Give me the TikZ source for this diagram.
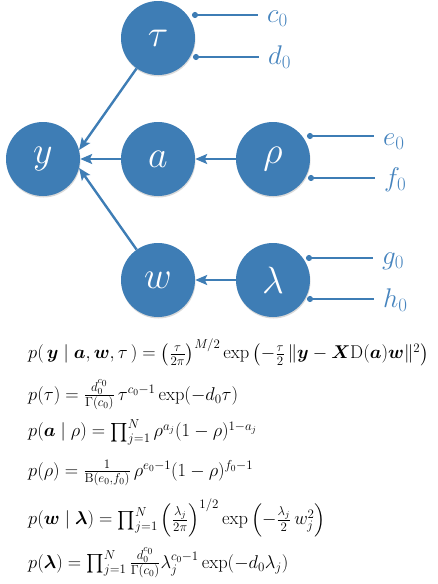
\RequirePackage{fix-cm}
\documentclass[tikz,border=0pt]{standalone}
\usepackage{amsmath}
\usepackage{amssymb}
\usepackage{xcolor}
\usepackage{tikz}
\usetikzlibrary{arrows.meta,shadows}
\definecolor{nodeblue}{RGB}{62,125,181}
\definecolor{labelblue}{RGB}{70,132,190}

\begin{document}
\begin{tikzpicture}[x=1pt,y=-1pt,
  var/.style={circle,fill=nodeblue,minimum size=74pt,inner sep=0pt,text=white,
    font=\fontsize{38}{40}\selectfont,
    drop shadow={opacity=0.3,shadow xshift=0.5pt,shadow yshift=-1.5pt}},
  dep/.style={draw=nodeblue,line width=2.4pt,-{Stealth[length=12pt,width=10pt,inset=2.5pt]}},
  hyper/.style={draw=nodeblue,line width=1.8pt,{Circle[length=6pt]}-},
  lbl/.style={anchor=base west,inner xsep=9pt,inner ysep=0pt,text=labelblue,
    font=\fontsize{27}{30}\selectfont},
  eqn/.style={anchor=west,inner sep=0pt,font=\fontsize{18.5}{21}\selectfont}]
\useasboundingbox (0,0) rectangle (438,584);

\node[var] (y) at (43,159) {$y$};
\node[var] (tau) at (158,38) {$\tau$};
\node[var] (a) at (158,159) {$a$};
\node[var] (rho) at (273,159) {$\rho$};
\node[var] (w) at (158,280) {$w$};
\node[var] (lambda) at (273,280) {$\lambda$};

\draw[dep] (tau) -- (y.14);
\draw[dep] (a) -- (y);
\draw[dep] (w) -- (y.-14);
\draw[dep] (rho) -- (a);
\draw[dep] (lambda) -- (w);

\coordinate (cdot) at (192,15);
\coordinate (ddot) at (193,57);
\coordinate (edot) at (307,136);
\coordinate (fdot) at (308,178);
\coordinate (gdot) at (306,258);
\coordinate (hdot) at (307,299);
\node[lbl] (c0) at (258,22) {$c_0$};
\node[lbl] (d0) at (259,64) {$d_0$};
\node[lbl] (e0) at (374,145) {$e_0$};
\node[lbl] (f0) at (375,186) {$f_0$};
\node[lbl] (g0) at (373,264) {$g_0$};
\node[lbl] (h0) at (374,307) {$h_0$};
\draw[hyper] (cdot) -- (cdot -| c0.west);
\draw[hyper] (ddot) -- (ddot -| d0.west);
\draw[hyper] (edot) -- (edot -| e0.west);
\draw[hyper] (fdot) -- (fdot -| f0.west);
\draw[hyper] (gdot) -- (gdot -| g0.west);
\draw[hyper] (hdot) -- (hdot -| h0.west);

\node[eqn] (eq1) at (28,352) {$p(\,\boldsymbol{y}\mid\boldsymbol{a},\boldsymbol{w},\tau\,)
  =\left(\frac{\tau}{2\pi}\right)^{M/2}\exp\left(-\frac{\tau}{2}\,
  \|\boldsymbol{y}-\boldsymbol{X}\mathrm{D}(\boldsymbol{a})\boldsymbol{w}\|^2\right)$};
\node[eqn] (eq2) at (28,395) {$p(\tau)=\frac{d_0^{c_0}}{\Gamma(c_0)}\,\tau^{c_0-1}\exp(-d_0\tau)$};
\node[eqn] (eq3) at (28,432) {$p(\boldsymbol{a}\mid\rho)=\prod_{j=1}^{N}\rho^{a_j}(1-\rho)^{1-a_j}$};
\node[eqn] (eq4) at (28,473) {$p(\rho)=\frac{1}{\mathrm{B}(e_0,f_0)}\,\rho^{e_0-1}(1-\rho)^{f_0-1}$};
\node[eqn] (eq5) at (28,518) {$p(\boldsymbol{w}\mid\boldsymbol{\lambda})=\prod_{j=1}^{N}
  \left(\frac{\lambda_j}{2\pi}\right)^{1/2}\exp\left(-\frac{\lambda_j}{2}\,w_j^2\right)$};
\node[eqn] (eq6) at (28,563) {$p(\boldsymbol{\lambda})=\prod_{j=1}^{N}\frac{d_0^{c_0}}{\Gamma(c_0)}
  \lambda_j^{c_0-1}\exp(-d_0\lambda_j)$};
\end{tikzpicture}
\end{document}
